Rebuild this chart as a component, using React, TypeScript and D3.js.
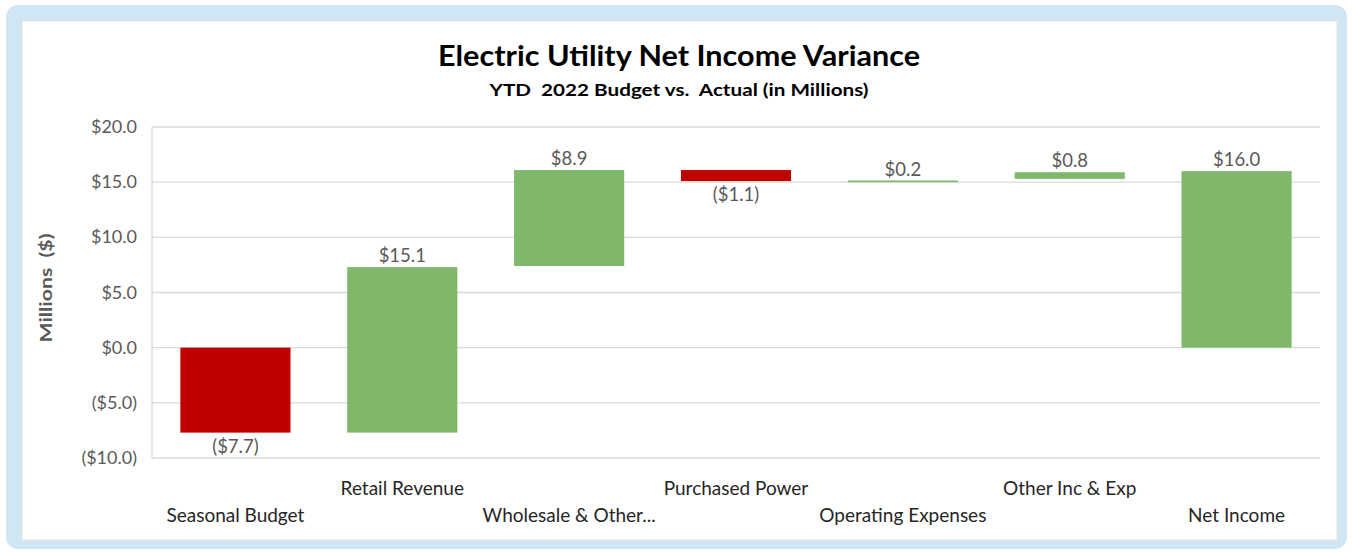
import React from "react";
import * as d3 from "d3";

const categories = [
  "Seasonal Budget",
  "Retail Revenue",
  "Wholesale & Other...",
  "Purchased Power",
  "Operating Expenses",
  "Other Inc & Exp",
  "Net Income",
];
// displayed variance values (labels)
const values = [-7.7, 15.1, 8.9, -1.1, 0.2, 0.8, 16.0];
// floating bar extents as drawn in the chart
const barLow = [-7.7, -7.7, 7.4, 15.1, 15.0, 15.3, 0];
const barHigh = [0, 7.3, 16.1, 16.1, 15.15, 15.9, 16.0];
const yTicks = [-10, -5, 0, 5, 10, 15, 20];

const W = 1352;
const H = 552;
const FONT = "Lato, 'Open Sans', sans-serif";

const fmt = (v: number) =>
  v < 0 ? `($${Math.abs(v).toFixed(1)})` : `$${v.toFixed(1)}`;

export default function App() {
  const x = d3
    .scaleBand<string>()
    .domain(categories)
    .range([152, 1320])
    .paddingInner(0.34)
    .paddingOuter(0.17);
  const y = d3.scaleLinear().domain([-10, 20]).range([458, 127]);

  return (
    <div style={{ position: "absolute", left: 0, top: 0 }}>
      <svg width={W} height={H} style={{ display: "block" }}>
        <rect x={0} y={0} width={W} height={H} fill="#ffffff" />
        <rect x={6} y={5} width={1341} height={544} rx={12} fill="#d0e7f3" />
        <rect x={22} y={21} width={1315} height={519} fill="#ffffff" stroke="#e4e4e4" strokeWidth={1} />

        <text x={679} y={66} textAnchor="middle" fontFamily={FONT} fontWeight={700} fontSize={28} fill="#000"
          textLength={482} lengthAdjust="spacingAndGlyphs">
          Electric Utility Net Income Variance
        </text>
        <text x={679} y={96} textAnchor="middle" fontFamily={FONT} fontWeight={700} fontSize={17} fill="#000"
          textLength={379} lengthAdjust="spacingAndGlyphs" style={{ whiteSpace: "pre" }}>
          {"YTD  2022 Budget vs.  Actual (in Millions)"}
        </text>

        {yTicks.map((t) => (
          <g key={t}>
            <line x1={152} x2={1320} y1={y(t)} y2={y(t)} stroke="#d9d9d9" strokeWidth={1.3} />
            <text x={137} y={y(t) + 6} textAnchor="end" fontFamily={FONT} fontSize={18} fill="#595959">
              {fmt(t)}
            </text>
          </g>
        ))}
        <line x1={152} x2={152} y1={127} y2={458} stroke="#d9d9d9" strokeWidth={1.3} />

        <text
          transform={`translate(52,288) rotate(-90)`}
          textAnchor="middle"
          fontFamily={FONT}
          fontWeight={700}
          fontSize={17}
          fill="#595959"
          textLength={109}
          lengthAdjust="spacingAndGlyphs"
          style={{ whiteSpace: "pre" }}
        >
          {"Millions  ($)"}
        </text>

        {categories.map((c, i) => {
          const x0 = x(c)!;
          const bw = x.bandwidth();
          const top = y(barHigh[i]);
          const bot = y(barLow[i]);
          const neg = values[i] < 0;
          const cx = x0 + bw / 2;
          return (
            <g key={c}>
              <rect
                x={x0}
                y={top}
                width={bw}
                height={Math.max(1.5, bot - top)}
                fill={neg ? "#c00000" : "#7fb76b"}
              />
              <text
                x={cx}
                y={neg ? bot + 20 : top - 5}
                textAnchor="middle"
                fontFamily={FONT}
                fontSize={18.5}
                fill="#595959"
              >
                {fmt(values[i])}
              </text>
              <text
                x={cx}
                y={i % 2 === 1 ? 495 : 522}
                textAnchor="middle"
                fontFamily={FONT}
                fontSize={19}
                fill="#262626"
              >
                {c}
              </text>
            </g>
          );
        })}
      </svg>
    </div>
  );
}
